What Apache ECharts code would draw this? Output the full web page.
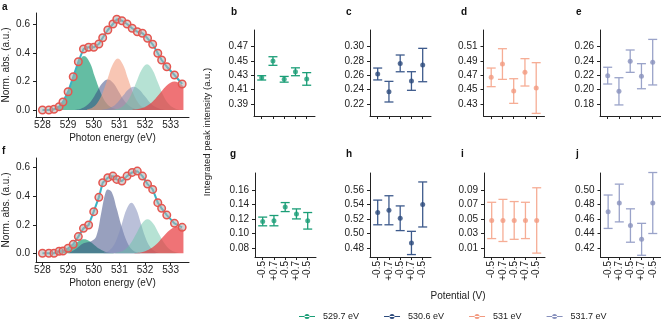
<!DOCTYPE html>
<html lang="en">
<head>
<meta charset="UTF-8">
<title>O K-edge fits</title>
<script src="https://cdn.jsdelivr.net/npm/echarts@6/dist/echarts.min.js"></script>
<style>html,body{margin:0;padding:0;background:#fff}</style>
</head>
<body>
<div id="main" style="width:661px;height:323px;"></div>
<script>
// spectra (a, f)
var energy = [528.0, 528.25, 528.45, 528.65, 528.8, 529.0, 529.2, 529.4, 529.6, 529.8, 530.0, 530.2, 530.35, 530.55,
  530.75, 530.9, 531.1, 531.3, 531.5, 531.7, 531.9, 532.1, 532.3, 532.5, 532.65, 532.85, 533.15, 533.45];
var specA = [0.0, 0.0, 0.005, 0.023, 0.056, 0.128, 0.233, 0.338, 0.427, 0.439, 0.439, 0.462, 0.506, 0.56,
  0.602, 0.635, 0.625, 0.602, 0.572, 0.548, 0.537, 0.502, 0.46, 0.397, 0.35, 0.303, 0.245, 0.182];
var specF = [0.0, 0.0, 0.0, 0.014, 0.016, 0.035, 0.063, 0.117, 0.175, 0.198, 0.292, 0.392, 0.495, 0.53,
  0.541, 0.518, 0.506, 0.541, 0.567, 0.576, 0.541, 0.485, 0.448, 0.355, 0.315, 0.268, 0.21, 0.182];
var energyTicks = [528, 529, 530, 531, 532, 533];
var normTicks = [0, 0.2, 0.4, 0.6];

// fitted peaks, [eV, norm. abs.]
var peakA5297 = [[528.33,0.004],[528.55,0.017],[528.76,0.051],[528.98,0.123],[529.19,0.229],[529.41,0.334],[529.62,0.378],
  [529.84,0.334],[530.05,0.229],[530.27,0.123],[530.48,0.051],[530.7,0.017],[530.91,0.004]];
var peakA5306 = [[529.29,0.002],[529.5,0.009],[529.71,0.029],[529.92,0.069],[530.13,0.13],[530.34,0.189],[530.55,0.214],
  [530.76,0.189],[530.97,0.13],[531.18,0.069],[531.39,0.029],[531.6,0.009],[531.81,0.002]];
var peakA531 = [[529.74,0.004],[529.94,0.016],[530.14,0.049],[530.34,0.117],[530.54,0.218],[530.74,0.318],[530.94,0.36],
  [531.14,0.318],[531.34,0.218],[531.54,0.117],[531.74,0.049],[531.94,0.016],[532.14,0.004]];
var peakA5317 = [[530.3,0.002],[530.51,0.007],[530.72,0.022],[530.93,0.053],[531.14,0.099],[531.35,0.144],[531.56,0.163],
  [531.77,0.144],[531.98,0.099],[532.19,0.053],[532.4,0.022],[532.61,0.007],[532.82,0.002]];
var peakA5322 = [[530.82,0.004],[531.03,0.014],[531.24,0.043],[531.45,0.104],[531.66,0.194],[531.87,0.282],[532.08,0.32],
  [532.29,0.282],[532.5,0.194],[532.71,0.104],[532.92,0.043],[533.13,0.014],[533.34,0.004]];
var peakA5332 = [[531.5,0.002],[531.78,0.009],[532.05,0.027],[532.33,0.065],[532.6,0.121],[532.88,0.176],[533.15,0.2],
  [533.43,0.176],[533.5,0.163]];

var peakF5297 = [[528.42,0.001],[528.62,0.004],[528.82,0.013],[529.02,0.032],[529.22,0.059],[529.42,0.086],[529.62,0.098],
  [529.82,0.086],[530.02,0.059],[530.22,0.032],[530.42,0.013],[530.62,0.004],[530.82,0.001]];
var peakF5306 = [[529.0,0.0],[529.3,0.03],[529.6,0.07],[529.9,0.085],[530.1,0.12],[530.3,0.29],[530.45,0.42],[530.55,0.448],
  [530.7,0.43],[530.9,0.31],[531.1,0.18],[531.3,0.08],[531.5,0.025],[531.7,0.006],[531.9,0.0]];
var peakF5317 = [[530.39,0.004],[530.57,0.016],[530.75,0.048],[530.93,0.115],[531.11,0.215],[531.29,0.312],[531.47,0.354],
  [531.65,0.312],[531.83,0.215],[532.01,0.115],[532.19,0.048],[532.37,0.016],[532.55,0.004]];
var peakF5322 = [[530.84,0.003],[531.05,0.01],[531.26,0.032],[531.47,0.077],[531.68,0.144],[531.89,0.21],[532.1,0.238],
  [532.31,0.21],[532.52,0.144],[532.73,0.077],[532.94,0.032],[533.15,0.01],[533.36,0.003]];
var peakF5332 = [[531.59,0.002],[531.87,0.008],[532.14,0.025],[532.42,0.06],[532.69,0.113],[532.97,0.164],[533.24,0.186],
  [533.5,0.166]];

// integrated intensities (b-e top, g-j bottom)
var potentials = ['-0.5', '+0.7', '-0.5', '+0.7', '-0.5'];
var bMean = [0.4265, 0.450, 0.4245, 0.435, 0.425];
var bErr  = [0.003, 0.006, 0.004, 0.0055, 0.0088];
var cMean = [0.2619, 0.2372, 0.2767, 0.2521, 0.2744];
var cErr  = [0.0083, 0.0144, 0.0117, 0.013, 0.0233];
var dMean = [0.4672, 0.4858, 0.4481, 0.4742, 0.4523];
var dErr  = [0.013, 0.0214, 0.0172, 0.0191, 0.0354];
var eMean = [0.2196, 0.1977, 0.2398, 0.2188, 0.2384];
var eErr  = [0.0117, 0.019, 0.0156, 0.0175, 0.0318];
var gMean = [0.1166, 0.1177, 0.1364, 0.127, 0.1175];
var gErr  = [0.006, 0.0071, 0.0062, 0.0069, 0.0114];
var hMean = [0.529, 0.532, 0.521, 0.487, 0.540];
var hErr  = [0.017, 0.020, 0.017, 0.016, 0.031];
var iMean = [0.048, 0.048, 0.048, 0.048, 0.048];
var iErr  = [0.025, 0.029, 0.026, 0.025, 0.045];
var jMean = [0.470, 0.482, 0.451, 0.432, 0.482];
var jErr  = [0.023, 0.026, 0.023, 0.022, 0.042];
var bTicks = [0.39, 0.41, 0.43, 0.45, 0.47];
var cTicks = [0.22, 0.24, 0.26, 0.28, 0.30];
var dTicks = [0.43, 0.45, 0.47, 0.49, 0.51];
var eTicks = [0.18, 0.20, 0.22, 0.24, 0.26];
var gTicks = [0.08, 0.10, 0.12, 0.14, 0.16];
var hTicks = [0.48, 0.50, 0.52, 0.54, 0.56];
var iTicks = [0.01, 0.03, 0.05, 0.07, 0.09];
var jTicks = [0.42, 0.44, 0.46, 0.48, 0.50];

var names = ['529.7 eV', '530.6 eV', '531 eV', '531.7 eV'];
var colPt = ['#1b9e77', '#2c4a7c', '#f29a80', '#8891bd'];
var colBar = ['#1b9e77', '#3d5a8c', '#f6ad95', '#9aa3c9'];

var FONT = 'Liberation Sans, Arial, sans-serif';
var INK = '#222';
var lineSt = { color: INK, width: 1 };

var myChart = echarts.init(document.getElementById('main'));

var grids = [], xAxes = [], yAxes = [], series = [];

function addSpectrum(gi, top, ymin, ymax, spec, peaks) {
  grids.push({ left: 35, top: top, width: 154, height: 104 });
  xAxes.push({
    gridIndex: gi, type: 'value', min: 527.748, max: 533.717,
    axisLine: { show: true, onZero: false, lineStyle: lineSt },
    axisTick: { show: true, length: 3, customValues: energyTicks, lineStyle: lineSt },
    axisLabel: { customValues: energyTicks, margin: 3, fontSize: 10, color: INK, fontFamily: FONT },
    splitLine: { show: false },
    name: 'Photon energy (eV)', nameLocation: 'middle', nameGap: 16,
    nameTextStyle: { fontSize: 10, color: INK, fontFamily: FONT }
  });
  yAxes.push({
    gridIndex: gi, type: 'value', min: ymin, max: ymax,
    axisLine: { show: true, onZero: false, lineStyle: lineSt },
    axisTick: { show: true, length: 3, customValues: normTicks, lineStyle: lineSt },
    axisLabel: { customValues: normTicks, margin: 6, fontSize: 10, color: INK, fontFamily: FONT,
      formatter: function (v) { return v.toFixed(1); } },
    splitLine: { show: false },
    name: 'Norm. abs. (a.u.)', nameLocation: 'middle', nameGap: 25,
    nameTextStyle: { fontSize: 10, color: INK, fontFamily: FONT }
  });
  peaks.forEach(function (p) {
    series.push({
      type: 'line', xAxisIndex: gi, yAxisIndex: gi, data: p[0], smooth: 0.4,
      symbol: 'none', lineStyle: { width: 0 }, areaStyle: { color: p[1], opacity: 1 },
      silent: true, z: 1
    });
  });
  series.push({
    type: 'line', xAxisIndex: gi, yAxisIndex: gi,
    data: energy.map(function (e, i) { return [e, spec[i]]; }),
    symbol: 'circle', symbolSize: 7.5,
    lineStyle: { color: '#3ab4c5', width: 2 },
    itemStyle: { color: 'rgba(175,175,175,0.55)', borderColor: '#e5554f', borderWidth: 1.5 },
    z: 3
  });
}

var cGreen = 'rgba(27,158,119,0.68)';
var cNavy = 'rgba(50,65,125,0.5)';
var cSalmon = 'rgba(244,160,130,0.6)';
var cLav = 'rgba(130,140,185,0.55)';
var cTeal = 'rgba(102,194,165,0.48)';
var cRed = 'rgba(232,55,60,0.7)';

addSpectrum(0, 13, -0.049, 0.679, specA,
  [[peakA5297, cGreen], [peakA5306, cNavy], [peakA531, cSalmon], [peakA5317, cLav], [peakA5322, cTeal], [peakA5332, cRed]]);
addSpectrum(1, 158, -0.061, 0.668, specF,
  [[peakF5297, cGreen], [peakF5306, cNavy], [peakF5317, cLav], [peakF5322, cTeal], [peakF5332, cRed]]);

function addPanel(gi, left, top, height, ticks, k, mean, err, bottomRow) {
  var span = ticks[4] - ticks[0];
  var pxPer = (bottomRow ? 58.3 : 57.3) / span;
  var ymax = ticks[4] + (bottomRow ? 17 : 16.7) / pxPer;
  var ymin = ticks[0] - (bottomRow ? 9 : 12) / pxPer;
  grids.push({ left: left, top: top, width: 61, height: height });
  xAxes.push({
    gridIndex: gi, type: 'value', min: 0.316, max: 5.738,
    axisLine: { show: true, onZero: false, lineStyle: lineSt },
    axisTick: { show: true, length: 3, customValues: [1, 2, 3, 4, 5], lineStyle: lineSt },
    axisLabel: { show: bottomRow, customValues: [1, 2, 3, 4, 5], rotate: 90, margin: 4, fontSize: 10,
      color: INK, fontFamily: FONT, formatter: function (v) { return potentials[Math.round(v) - 1]; } },
    splitLine: { show: false }
  });
  yAxes.push({
    gridIndex: gi, type: 'value', min: ymin, max: ymax,
    axisLine: { show: true, onZero: false, lineStyle: lineSt },
    axisTick: { show: true, length: 3, customValues: ticks, lineStyle: lineSt },
    axisLabel: { customValues: ticks, margin: 6, fontSize: 10, color: INK, fontFamily: FONT,
      formatter: function (v) { return v.toFixed(2); } },
    splitLine: { show: false }
  });
  var barColor = colBar[k];
  series.push({
    type: 'custom', name: names[k], xAxisIndex: gi, yAxisIndex: gi,
    data: mean.map(function (m, i) { return [i + 1, m - err[i], m + err[i]]; }),
    encode: { x: 0, y: [1, 2] },
    renderItem: function (params, api) {
      var hi = api.coord([api.value(0), api.value(2)]);
      var lo = api.coord([api.value(0), api.value(1)]);
      var w = 4.5;
      var st = { stroke: barColor, lineWidth: 1.3 };
      return { type: 'group', children: [
        { type: 'line', shape: { x1: hi[0], y1: hi[1], x2: lo[0], y2: lo[1] }, style: st },
        { type: 'line', shape: { x1: hi[0] - w, y1: hi[1], x2: hi[0] + w, y2: hi[1] }, style: st },
        { type: 'line', shape: { x1: lo[0] - w, y1: lo[1], x2: lo[0] + w, y2: lo[1] }, style: st }
      ] };
    },
    itemStyle: { color: colPt[k] }, silent: true, z: 2
  });
  series.push({
    type: 'scatter', name: names[k], xAxisIndex: gi, yAxisIndex: gi,
    data: mean.map(function (m, i) { return [i + 1, m]; }),
    symbolSize: 5, itemStyle: { color: colPt[k] }, z: 3
  });
}

addPanel(2, 254, 30, 86, bTicks, 0, bMean, bErr, false);
addPanel(3, 370, 30, 86, cTicks, 1, cMean, cErr, false);
addPanel(4, 483.5, 30, 86, dTicks, 2, dMean, dErr, false);
addPanel(5, 600, 30, 86, eTicks, 3, eMean, eErr, false);
addPanel(6, 255, 173, 84, gTicks, 0, gMean, gErr, true);
addPanel(7, 370, 173, 84, hTicks, 1, hMean, hErr, true);
addPanel(8, 484, 173, 84, iTicks, 2, iMean, iErr, true);
addPanel(9, 600.5, 173, 84, jTicks, 3, jMean, jErr, true);

var letters = [['a', 4, 8], ['f', 4, 152], ['b', 233, 13], ['c', 348, 13], ['d', 463, 13], ['e', 578, 13],
  ['g', 232, 155], ['h', 348, 155], ['i', 463, 155], ['j', 578, 155]];
var graphics = letters.map(function (l) {
  return { type: 'text', left: l[1] - 2, top: l[2] - 6,
    style: { text: l[0], fontSize: 10, fontWeight: 'bold', fill: '#111', fontFamily: FONT } };
});
graphics.push({ type: 'text', x: 207, y: 132, rotation: Math.PI / 2,
  style: { text: 'Integrated peak intensity (a.u.)', fontSize: 9.5, fill: INK, fontFamily: FONT,
    align: 'center', verticalAlign: 'middle' } });
graphics.push({ type: 'text', x: 458, y: 296,
  style: { text: 'Potential (V)', fontSize: 10, fill: INK, fontFamily: FONT, align: 'center', verticalAlign: 'middle' } });

var option = {
  animation: false,
  backgroundColor: '#fff',
  textStyle: { fontFamily: FONT },
  grid: grids,
  xAxis: xAxes,
  yAxis: yAxes,
  legend: {
    data: names, left: 299, top: 312, itemWidth: 16, itemHeight: 8, itemGap: 25, padding: 0,
    icon: 'path://M0,3.4H16V4.6H0Z M5.5,4A2.5,2.5,0,1,0,10.5,4A2.5,2.5,0,1,0,5.5,4Z',
    textStyle: { fontSize: 9, color: INK, fontFamily: FONT, padding: [0, 0, 0, 3] },
    selectedMode: false
  },
  graphic: graphics,
  series: series
};
myChart.setOption(option);
</script>
</body>
</html>
